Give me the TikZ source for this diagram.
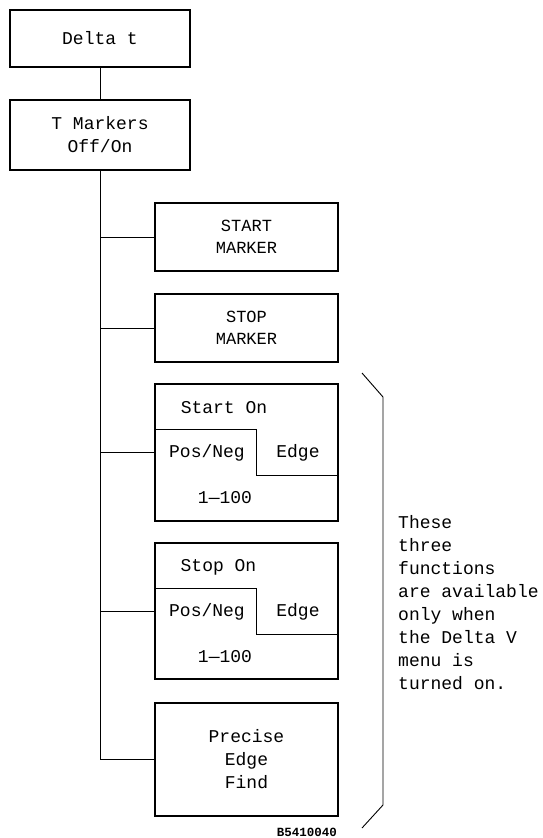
\documentclass[tikz,border=0pt]{standalone}
\usepackage{fontspec}
\setmonofont{Liberation Mono}
\def\BoxW{183}
\def\BoxX{246.5}
\def\LineW{1.3pt}

\begin{document}
\begin{tikzpicture}[x=1pt,y=-1pt,
  font=\ttfamily\fontsize{18}{23}\selectfont,
  caja/.style={draw, line width=\LineW, inner sep=0pt, align=center},
  rama/.style={line width=0.9pt},
  texto/.style={inner sep=0pt, align=center}]
  \useasboundingbox (0,0) rectangle (543,838);

  % --- Cajas de arriba ---
  \node[caja, minimum width=180, minimum height=57] (dt) at (100,38.5) {Delta t};
  \node[caja, minimum width=180, minimum height=70] (tm) at (100,135) {T Markers\\Off/On};

  % --- Cajas de la derecha ---
  \node[caja, minimum width=\BoxW, minimum height=68, font=\ttfamily\fontsize{17}{22}\selectfont]
    (sm) at (\BoxX,237) {START\\MARKER};
  \node[caja, minimum width=\BoxW, minimum height=68, font=\ttfamily\fontsize{17}{22}\selectfont]
    (pm) at (\BoxX,328) {STOP\\MARKER};
  \node[caja, minimum width=\BoxW, minimum height=137] (son) at (\BoxX,452.5) {};
  \node[caja, minimum width=\BoxW, minimum height=136] (pon) at (\BoxX,611) {};
  \node[caja, minimum width=\BoxW, minimum height=113] (pef) at (\BoxX,759.5) {Precise\\Edge\\Find};

  % --- Escalones ---
  \foreach \b in {son,pon}{
    \draw[line width=\LineW] ([yshift=-46pt]\b.north west) -- ++(102,0) -- ++(0,46)
      -- ([yshift=-92pt]\b.north east);
  }

  % --- Textos ---
  \node[texto] (sonT) at (224,408) {Start On};
  \node[texto] (sonP) at (207,453) {Pos/Neg};
  \node[texto] (sonE) at (298,453) {Edge};
  \node[texto] (sonN) at (225,498) {1—100};
  \node[texto] (ponT) at (218.5,567) {Stop On};
  \node[texto] (ponP) at (207,612) {Pos/Neg};
  \node[texto] (ponE) at (298,612) {Edge};
  \node[texto] (ponN) at (225,657) {1—100};

  % --- Conexiones ---
  \draw[rama] (dt) -- (tm);
  \draw[rama] (tm.south) |- (pef.west);
  \foreach \b in {sm,pm,son,pon}{
    \draw[rama] (\b.west) -- (\b.west -| tm.south);
  }

  % --- Llave y nota ---
  \draw[line width=0.9pt] (362,373) -- (383,397) -- (383,805) -- (362,828);
  \node[texto, align=left, anchor=west] (nota) at (398,602.5)
    {These\\three\\functions\\are available\\only when\\the Delta V\\menu is\\turned on.};
  \node[texto, font=\ttfamily\bfseries\fontsize{12.5}{14}\selectfont] (ref) at (307,832) {B5410040};
\end{tikzpicture}
\end{document}
